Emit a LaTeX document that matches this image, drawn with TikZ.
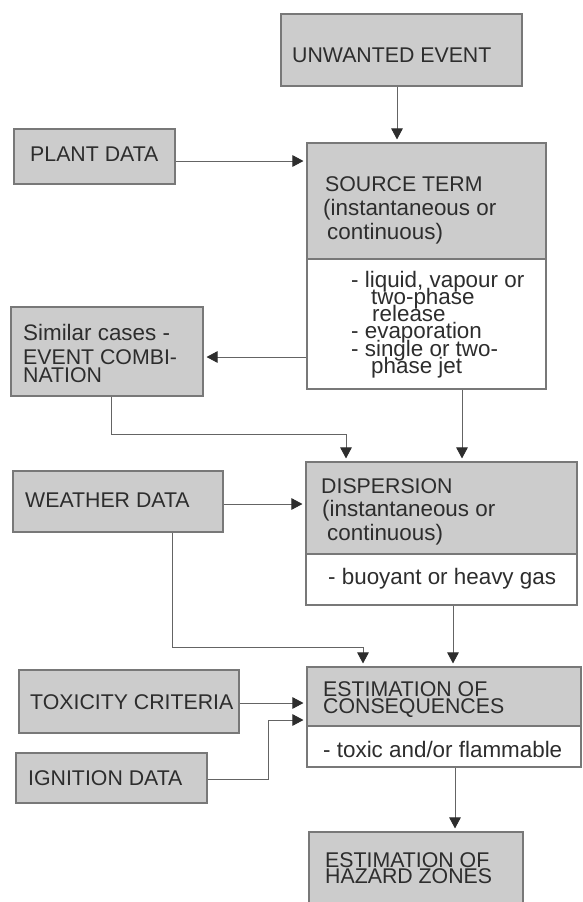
\documentclass[tikz,border=0pt]{standalone}
\usepackage{fontspec}
\setmainfont{Liberation Sans}
\usetikzlibrary{arrows.meta,fit}
\definecolor{boxfill}{RGB}{204,204,204}
\definecolor{boxline}{RGB}{120,120,120}
\definecolor{ink}{RGB}{45,45,45}
\definecolor{wire}{RGB}{100,100,100}
\newcommand{\CapF}{\fontsize{21.3}{21.3}\selectfont}
\newcommand{\LowF}{\fontsize{22.4}{22.4}\selectfont}
\newcommand{\Lines}[2]{\vtop{\lineskiplimit=-1000pt\lineskip=0pt\baselineskip=#1\relax #2}}
\newcommand{\mkbox}[6]{\node[#1, fit={(#3,#4) (#5,#6)}] (#2) {};}
\tikzset{
  gbox/.style={draw=boxline, line width=1.1pt, fill=boxfill, inner sep=0pt},
  wbox/.style={draw=boxline, line width=1.1pt, fill=white, inner sep=0pt},
  txt/.style={inner sep=0pt, anchor=base west, text=ink},
  wire/.style={draw=wire, line width=0.9pt},
  arr/.style={wire, -{Triangle[length=11pt,width=11.5pt,color=ink]}, shorten >=3pt}
}
\begin{document}
\begin{tikzpicture}[x=1pt,y=-1pt]
\useasboundingbox (0,0) rectangle (582,902);
\clip (0,0) rectangle (582,902);
\fill[white] (0,0) rectangle (582,902);
% boxes
\mkbox{gbox}{ue}{281}{14}{522}{86}
\mkbox{gbox}{pd}{14}{129}{175}{184}
\mkbox{gbox}{srcT}{307}{143}{546}{259}
\mkbox{wbox}{srcB}{307}{259}{546}{389}
\mkbox{gbox}{sim}{11}{307}{203}{396}
\mkbox{gbox}{wd}{13}{471}{223}{532}
\mkbox{gbox}{dispT}{306}{462}{577}{554}
\mkbox{wbox}{dispB}{306}{554}{577}{605}
\mkbox{gbox}{tox}{19}{670}{239}{733}
\mkbox{gbox}{ign}{16}{753}{207}{803}
\mkbox{gbox}{consT}{307}{667}{581}{726}
\mkbox{wbox}{consB}{307}{726}{581}{767}
\mkbox{gbox}{haz}{309}{832}{523}{915}
% texts
\node[txt] (ueT) at (292,62) {\CapF UNWANTED EVENT};
\node[txt] (pdT) at (30,161) {\CapF PLANT DATA};
\node[txt] (srcTT) at (325,191) {\Lines{24pt}{\hbox{\CapF SOURCE TERM}\hbox{\hspace*{-2pt}\LowF (instantaneous or}\hbox{\hspace*{2pt}\LowF continuous)}}};
\node[txt] (srcBT) at (351,287) {\Lines{17.3pt}{\hbox{\LowF - liquid, vapour or}\hbox{\hspace*{20pt}\LowF two-phase}\hbox{\hspace*{21pt}\LowF release}\hbox{\LowF - evaporation}\hbox{\LowF - single or two-}\hbox{\hspace*{20pt}\LowF phase jet}}};
\node[txt] (simT) at (23,340) {\vtop{\lineskiplimit=-1000pt\lineskip=0pt\baselineskip=24pt\relax\hbox{\LowF Similar cases -}\hbox{\CapF EVENT COMBI-}\baselineskip=18pt\relax\hbox{\CapF NATION}}};
\node[txt] (wdT) at (25,507) {\CapF WEATHER DATA};
\node[txt] (dispTT) at (321,493) {\Lines{23.5pt}{\hbox{\CapF DISPERSION}\hbox{\hspace*{1pt}\LowF (instantaneous or}\hbox{\hspace*{6pt}\LowF continuous)}}};
\node[txt] (dispBT) at (328,584) {\LowF - buoyant or heavy gas};
\node[txt] (consTT) at (323,696) {\Lines{17pt}{\hbox{\CapF ESTIMATION OF}\hbox{\CapF CONSEQUENCES}}};
\node[txt] (consBT) at (323,757) {\LowF - toxic and/or flammable};
\node[txt] (toxT) at (30,709) {\CapF TOXICITY CRITERIA};
\node[txt] (ignT) at (28,785) {\CapF IGNITION DATA};
\node[txt] (hazT) at (325,867) {\Lines{16.5pt}{\hbox{\CapF ESTIMATION OF}\hbox{\CapF HAZARD ZONES}}};
% helper coordinates
\coordinate (x397) at (397,0);
\coordinate (x111) at (111,0);
\coordinate (x346) at (346,0);
\coordinate (x462) at (462,0);
\coordinate (x172) at (172,0);
\coordinate (x363) at (363,0);
\coordinate (x453) at (453,0);
\coordinate (x268) at (268,0);
\coordinate (x455) at (455,0);
\coordinate (y161) at (0,161);
\coordinate (y357) at (0,357);
\coordinate (y434) at (0,434);
\coordinate (y504) at (0,504);
\coordinate (y647) at (0,647);
\coordinate (y703) at (0,703);
\coordinate (y779) at (0,779);
\coordinate (y720) at (0,720);
% connectors
\draw[arr] (ue.south -| x397) -- (srcT.north -| x397);
\draw[arr] (pd.east |- y161) -- (srcT.west |- y161);
\draw[arr] (srcB.west |- y357) -- (sim.east |- y357);
\draw[arr] (sim.south -| x111) |- (y434 -| x346) -- (dispT.north -| x346);
\draw[arr] (srcB.south -| x462) -- (dispT.north -| x462);
\draw[arr] (wd.east |- y504) -- (dispT.west |- y504);
\draw[arr] (wd.south -| x172) |- (y647 -| x363) -- (consT.north -| x363);
\draw[arr] (dispB.south -| x453) -- (consT.north -| x453);
\draw[arr] (tox.east |- y703) -- (consT.west |- y703);
\draw[arr] (ign.east |- y779) -| (y720 -| x268) -- (consT.west |- y720);
\draw[arr] (consB.south -| x455) -- (haz.north -| x455);
\end{tikzpicture}
\end{document}
